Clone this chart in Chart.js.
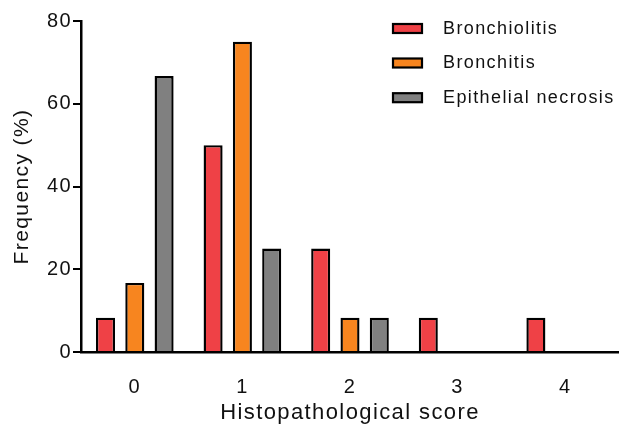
<!DOCTYPE html>
<html>
<head>
<meta charset="utf-8">
<script src="https://cdn.jsdelivr.net/npm/chart.js@4/dist/chart.umd.min.js"></script>
<style>
html,body{margin:0;padding:0;background:#fff;overflow:hidden;}
#wrap{width:619px;height:424px;position:relative;}
</style>
</head>
<body>
<div id="wrap"><canvas id="c" width="619" height="424"></canvas></div>
<script>
const categories = ['0', '1', '2', '3', '4'];
const seriesNames = ['Bronchiolitis', 'Bronchitis', 'Epithelial necrosis'];
const bronchiolitis = [8.3, 50, 25, 8.3, 8.3];
const bronchitis = [16.7, 75, 8.3, 0, 0];
const epithelialNecrosis = [66.7, 25, 8.3, 0, 0];
const yTicks = [0, 20, 40, 60, 80];
const xTitle = 'Histopathological score';
const yTitle = 'Frequency (%)';

const colors = ['#EF4146', '#F7851F', '#808080'];
const FONT = "'Liberation Sans', Arial, sans-serif";

const spacingPlugin = {
  id: 'spacing',
  beforeLayout(chart) { chart.ctx.letterSpacing = '1.4px'; },
  beforeDraw(chart) { chart.ctx.letterSpacing = '1.4px'; }
};

const legendPlugin = {
  id: 'insideLegend',
  afterDraw(chart) {
    const ctx = chart.ctx;
    ctx.save();
    const x0 = 393, w = 29, h = 9, tx = 443;
    const ys = [28.5, 63, 97.7];
    chart.data.datasets.forEach((ds, i) => {
      const cy = ys[i];
      ctx.fillStyle = ds.backgroundColor;
      ctx.fillRect(x0, cy - h / 2, w, h);
      ctx.lineWidth = 2.2;
      ctx.strokeStyle = '#000';
      ctx.strokeRect(x0, cy - h / 2, w, h);
      ctx.fillStyle = '#111';
      ctx.font = '18px ' + FONT;
      ctx.letterSpacing = '1.4px';
      ctx.textBaseline = 'middle';
      ctx.textAlign = 'left';
      ctx.fillText(ds.label, tx, cy + 0.5);
    });
    ctx.restore();
  }
};

new Chart(document.getElementById('c'), {
  type: 'bar',
  data: {
    labels: categories,
    datasets: [bronchiolitis, bronchitis, epithelialNecrosis].map((d, i) => ({
      label: seriesNames[i],
      data: d,
      backgroundColor: colors[i],
      borderColor: '#000',
      borderWidth: 2.4,
      categoryPercentage: 0.817,
      barPercentage: 0.65
    }))
  },
  options: {
    responsive: false,
    animation: false,
    devicePixelRatio: 1,
    layout: { padding: { top: 21, right: 0, left: 0, bottom: 0 } },
    plugins: { legend: { display: false }, tooltip: { enabled: false } },
    scales: {
      x: {
        grid: { display: false },
        border: { display: true, color: '#000', width: 2.5 },
        ticks: { color: '#111', font: { family: FONT, size: 20 }, padding: 15 },
        title: { display: true, text: xTitle, color: '#111', font: { family: FONT, size: 22, lineHeight: 1 }, padding: { top: 0, bottom: 0 } },
        afterFit(s) { s.height = 72; }
      },
      y: {
        min: 0, max: 80,
        afterBuildTicks(s) { s.ticks = yTicks.map(v => ({ value: v })); },
        grid: { display: true, drawOnChartArea: false, drawTicks: true, tickLength: 8, lineWidth: 2, color: '#000', tickColor: '#000' },
        border: { display: true, color: '#000', width: 2.5 },
        ticks: { color: '#111', font: { family: FONT, size: 20 }, padding: 1 },
        title: { display: true, text: yTitle, color: '#111', font: { family: FONT, size: 21, lineHeight: 1 }, padding: { top: 12, bottom: 0 } },
        afterFit(s) { s.width = 81; }
      }
    }
  },
  plugins: [spacingPlugin, legendPlugin]
});
</script>
</body>
</html>
